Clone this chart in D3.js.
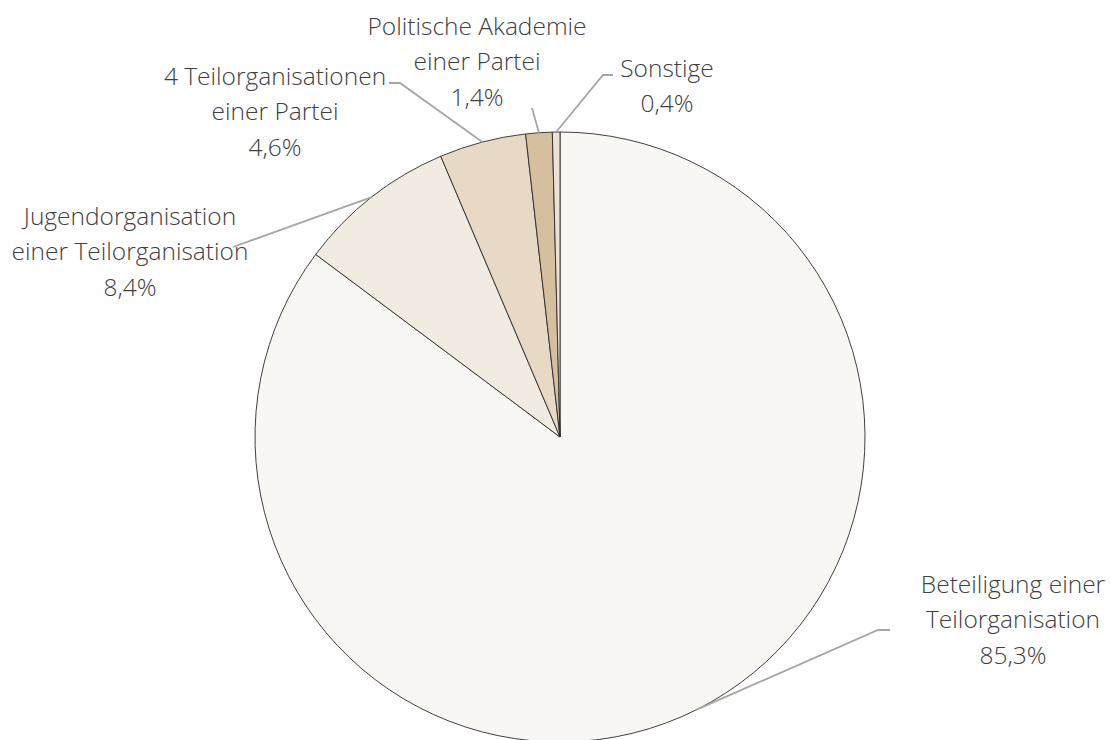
<!DOCTYPE html>
<html><head><meta charset="utf-8">
<script src="https://cdn.jsdelivr.net/npm/d3@7"></script>
<style>html,body{margin:0;padding:0;background:#fff;}svg{display:block;}</style>
</head><body>
<svg id="c" width="1110" height="740"></svg>
<script>
const categories = ["Beteiligung einer Teilorganisation","Jugendorganisation einer Teilorganisation","4 Teilorganisationen einer Partei","Politische Akademie einer Partei","Sonstige"];
const values = [85.3, 8.4, 4.6, 1.4, 0.4];
const valueLabels = ["85,3%","8,4%","4,6%","1,4%","0,4%"];
const labelLines = [["Beteiligung einer","Teilorganisation"],["Jugendorganisation","einer Teilorganisation"],["4 Teilorganisationen","einer Partei"],["Politische Akademie","einer Partei"],["Sonstige"]];
const colors = ["#f8f7f3","#f2ebe1","#e7d9c6","#d6bf9f","#ebe2d5"];

// layout (label positions relative to pie centre)
const cx = 560, cy = 437, R = 305, LH = 35.5;
const labelPos = [
  {x: 453, y: 147},
  {x: -430, y: -221},
  {x: -285, y: -361},
  {x: -83, y: -411},
  {x: 107, y: -369}
];
const leaderPts = [[[318,193],[330,193]],[[-327,-190]],[[-160,-354],[-171,-354]],[[-28,-329]],[[43,-362],[53,-362]]];

const svg = d3.select("#c");
const g = svg.append("g").attr("transform", `translate(${cx},${cy})`);
const pie = d3.pie().sort(null).value(d => d)(values);
const arc = d3.arc().innerRadius(0).outerRadius(R);

g.selectAll("path.slice").data(pie).join("path")
  .attr("class","slice")
  .attr("d", arc)
  .attr("fill", (d,i) => colors[i])
  .attr("stroke", "#2b2b2b")
  .attr("stroke-width", 0.9);

// leaders
pie.forEach((d,i) => {
  const a = (d.startAngle + d.endAngle) / 2;
  const sx = Math.sin(a) * R, sy = -Math.cos(a) * R;
  const pts = [[sx, sy]].concat(leaderPts[i]);
  g.append("path")
    .attr("d", d3.line()(pts))
    .attr("fill","none")
    .attr("stroke","#a6a6a6")
    .attr("stroke-width",1.8);
});

// labels
pie.forEach((d,i) => {
  const p = labelPos[i];
  const lines = labelLines[i].concat([valueLabels[i]]);
  const t = g.append("text")
    .attr("x", p.x).attr("y", p.y)
    .attr("text-anchor", "middle")
    .attr("font-family", "'Open Sans', sans-serif")
    .attr("font-weight", 300)
    .attr("font-size", 24.5)
    .attr("fill", "#404040");
  lines.forEach((l,k) => {
    t.append("tspan").attr("x", p.x).attr("dy", k===0 ? "0.36em" : LH).text(l);
  });
});
</script>
</body></html>
